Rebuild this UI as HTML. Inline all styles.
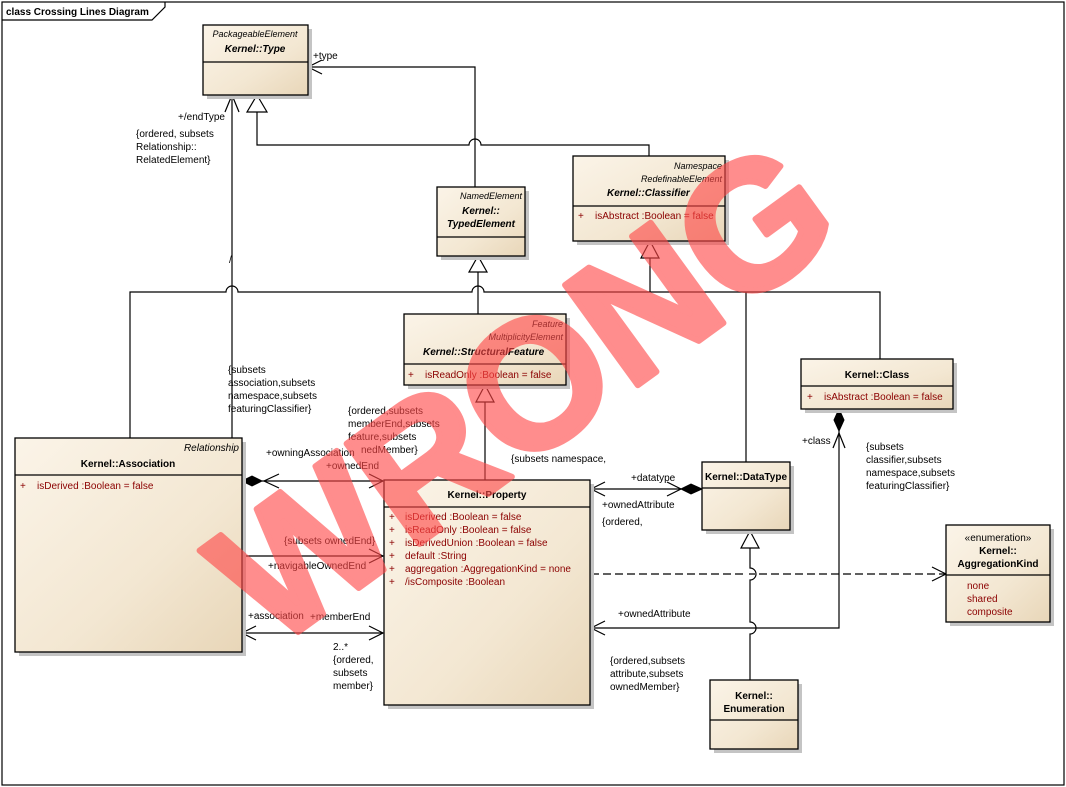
<!DOCTYPE html>
<html><head><meta charset="utf-8"><style>
html,body{margin:0;padding:0;background:#fff;}
svg{display:block;}
text{font-family:"Liberation Sans",sans-serif;font-size:10px;fill:#000;}
.b{font-weight:bold;}
.i{font-style:italic;}
.r{fill:#8b0000;}
.box{fill:url(#g);stroke:#000;stroke-width:1.3;}
.sh{fill:#c4c4c4;}
.ln{fill:none;stroke:#000;stroke-width:1.2;}
</style></head><body>
<svg width="1066" height="787" viewBox="0 0 1066 787" xmlns="http://www.w3.org/2000/svg">
<defs>
<linearGradient id="g" x1="0" y1="0" x2="1" y2="1">
<stop offset="0" stop-color="#fbf4e8"/><stop offset="0.6" stop-color="#f3e7d2"/><stop offset="1" stop-color="#e8d6b8"/>
</linearGradient>
</defs>
<rect x="0" y="0" width="1066" height="787" fill="#fff"/>
<rect x="2" y="2" width="1062" height="783" fill="none" stroke="#000" stroke-width="1.2"/>
<path d="M2,20 H152 L165,7 V2" class="ln"/>
<text x="6" y="15" class="b" style="font-size:10px">class Crossing Lines Diagram</text>

<!-- connectors -->
<path class="ln" d="M257,112 V145 H469 a6,6 0 0 1 12,0 H649 V156"/>
<path class="ln" d="M247,112 H267 L257,95 Z" fill="#fff"/>
<path class="ln" d="M475,187 V67 H308"/>
<path class="ln" d="M322,60 L308,67 L322,74"/>
<path class="ln" d="M232,438 V95"/>
<path class="ln" d="M225,112 L232,95 L239,112"/>
<path class="ln" d="M130,438 V292 H226 a6,6 0 0 1 12,0 H472 a6,6 0 0 1 12,0 H880 V359"/>
<path class="ln" d="M746,292 V462"/>
<path class="ln" d="M650,258 V292"/>
<path class="ln" d="M641,258 H659 L650,241 Z" fill="#fff"/>
<path class="ln" d="M478,272 V314"/>
<path class="ln" d="M469,272 H487 L478,256 Z" fill="#fff"/>
<path class="ln" d="M485,480 V402"/>
<path class="ln" d="M476,402 H494 L485,385 Z" fill="#fff"/>
<!-- association-property -->
<path class="ln" d="M262,481 H383"/>
<path d="M242,481 L252,476 L262,481 L252,486 Z" fill="#000" stroke="#000"/>
<path class="ln" d="M279,474 L264,481 L279,488"/>
<path class="ln" d="M369,474 L383,481 L369,488"/>
<path class="ln" d="M242,556 H383"/>
<path class="ln" d="M369,549 L383,556 L369,563"/>
<path class="ln" d="M242,633 H383"/>
<path class="ln" d="M369,626 L383,633 L369,640"/>
<path class="ln" d="M256,626 L242,633 L256,640"/>
<!-- datatype -->
<path class="ln" d="M591,489 H681"/>
<path d="M681,489 L691,484 L702,489 L691,494 Z" fill="#000" stroke="#000"/>
<path class="ln" d="M605,482 L591,489 L605,496"/>
<path class="ln" d="M667,482 L681,489 L667,496"/>
<path class="ln" d="M591,574 H946" stroke-dasharray="8,4"/>
<path class="ln" d="M932,567 L946,574 L932,581"/>
<path class="ln" d="M750,548 V568 a6,6 0 0 1 0,12 V622 a6,6 0 0 1 0,12 V680" style="fill:none"/>
<rect x="743" y="568" width="6" height="12" fill="#fff"/>
<rect x="743" y="622" width="6" height="12" fill="#fff"/>
<path class="ln" d="M741,548 H759 L750,531 Z" fill="#fff"/>
<path class="ln" d="M839,431 V628 H591"/>
<path d="M839,409 L844,420 L839,431 L834,420 Z" fill="#000" stroke="#000"/>
<path class="ln" d="M833,448 L839,433 L845,448"/>
<path class="ln" d="M605,621 L591,628 L605,635"/>

<!-- boxes -->
<rect class="sh" x="207" y="29" width="105" height="70"/>
<rect class="box" x="203" y="25" width="105" height="70"/>
<line class="ln" x1="203" y1="62" x2="308" y2="62"/>
<text x="255" y="37" class="i" text-anchor="middle" style="font-size:9px">PackageableElement</text>
<text x="255" y="52" class="b i" text-anchor="middle">Kernel::Type</text>

<rect class="sh" x="441" y="191" width="88" height="69"/>
<rect class="box" x="437" y="187" width="88" height="69"/>
<line class="ln" x1="437" y1="237" x2="525" y2="237"/>
<text x="522" y="199" class="i" text-anchor="end" style="font-size:9px">NamedElement</text>
<text x="481" y="214" class="b i" text-anchor="middle">Kernel::</text>
<text x="481" y="227" class="b i" text-anchor="middle">TypedElement</text>

<rect class="sh" x="577" y="160" width="152" height="85"/>
<rect class="box" x="573" y="156" width="152" height="85"/>
<line class="ln" x1="573" y1="206" x2="725" y2="206"/>
<text x="722" y="169" class="i" text-anchor="end" style="font-size:9px">Namespace</text>
<text x="722" y="182" class="i" text-anchor="end" style="font-size:9px">RedefinableElement</text>
<text x="607" y="196" class="b i">Kernel::Classifier</text>
<text x="578" y="219" class="r">+</text><text x="595" y="219" class="r">isAbstract  :Boolean = false</text>

<rect class="sh" x="408" y="318" width="162" height="71"/>
<rect class="box" x="404" y="314" width="162" height="71"/>
<line class="ln" x1="404" y1="364" x2="566" y2="364"/>
<text x="563" y="327" class="i" text-anchor="end" style="font-size:9px">Feature</text>
<text x="563" y="340" class="i" text-anchor="end" style="font-size:9px">MultiplicityElement</text>
<text x="423" y="355" class="b i">Kernel::StructuralFeature</text>
<text x="408" y="378" class="r">+</text><text x="425" y="378" class="r">isReadOnly  :Boolean = false</text>

<rect class="sh" x="805" y="363" width="152" height="50"/>
<rect class="box" x="801" y="359" width="152" height="50"/>
<line class="ln" x1="801" y1="386" x2="953" y2="386"/>
<text x="877" y="378" class="b" text-anchor="middle">Kernel::Class</text>
<text x="807" y="400" class="r">+</text><text x="824" y="400" class="r">isAbstract  :Boolean = false</text>

<rect class="sh" x="19" y="442" width="227" height="214"/>
<rect class="box" x="15" y="438" width="227" height="214"/>
<line class="ln" x1="15" y1="475" x2="242" y2="475"/>
<text x="239" y="451" class="i" text-anchor="end">Relationship</text>
<text x="128" y="467" class="b" text-anchor="middle">Kernel::Association</text>
<text x="20" y="489" class="r">+</text><text x="37" y="489" class="r">isDerived  :Boolean = false</text>

<rect class="sh" x="388" y="484" width="206" height="225"/>
<rect class="box" x="384" y="480" width="206" height="225"/>
<line class="ln" x1="384" y1="507" x2="590" y2="507"/>
<text x="487" y="498" class="b" text-anchor="middle">Kernel::Property</text>
<g class="r">
<text x="389" y="520" class="r">+</text><text x="405" y="520" class="r">isDerived  :Boolean = false</text>
<text x="389" y="533" class="r">+</text><text x="405" y="533" class="r">isReadOnly  :Boolean = false</text>
<text x="389" y="546" class="r">+</text><text x="405" y="546" class="r">isDerivedUnion  :Boolean = false</text>
<text x="389" y="559" class="r">+</text><text x="405" y="559" class="r">default  :String</text>
<text x="389" y="572" class="r">+</text><text x="405" y="572" class="r">aggregation  :AggregationKind = none</text>
<text x="389" y="585" class="r">+</text><text x="405" y="585" class="r">/isComposite  :Boolean</text>
</g>

<rect class="sh" x="706" y="466" width="88" height="68"/>
<rect class="box" x="702" y="462" width="88" height="68"/>
<line class="ln" x1="702" y1="488" x2="790" y2="488"/>
<text x="746" y="480" class="b" text-anchor="middle">Kernel::DataType</text>

<rect class="sh" x="950" y="529" width="104" height="97"/>
<rect class="box" x="946" y="525" width="104" height="97"/>
<line class="ln" x1="946" y1="575" x2="1050" y2="575"/>
<text x="998" y="541" text-anchor="middle">«enumeration»</text>
<text x="998" y="554" class="b" text-anchor="middle">Kernel::</text>
<text x="998" y="567" class="b" text-anchor="middle">AggregationKind</text>
<text x="967" y="589" class="r">none</text>
<text x="967" y="602" class="r">shared</text>
<text x="967" y="615" class="r">composite</text>

<rect class="sh" x="714" y="684" width="88" height="69"/>
<rect class="box" x="710" y="680" width="88" height="69"/>
<line class="ln" x1="710" y1="720" x2="798" y2="720"/>
<text x="754" y="699" class="b" text-anchor="middle">Kernel::</text>
<text x="754" y="712" class="b" text-anchor="middle">Enumeration</text>

<!-- labels -->
<text x="313" y="59">+type</text>
<text x="225" y="120" text-anchor="end">+/endType</text>
<text x="136" y="137">{ordered, subsets</text>
<text x="136" y="150">Relationship::</text>
<text x="136" y="163">RelatedElement}</text>
<text x="229" y="263">/</text>
<text x="228" y="373">{subsets</text>
<text x="228" y="386">association,subsets</text>
<text x="228" y="399">namespace,subsets</text>
<text x="228" y="412">featuringClassifier}</text>
<text x="348" y="414">{ordered,subsets</text>
<text x="348" y="427">memberEnd,subsets</text>
<text x="348" y="440">feature,subsets</text>
<text x="361" y="453">nedMember}</text>
<text x="266" y="456">+owningAssociation</text>
<text x="326" y="469">+ownedEnd</text>
<text x="511" y="462">{subsets namespace,</text>
<text x="284" y="544">{subsets ownedEnd}</text>
<text x="268" y="569">+navigableOwnedEnd</text>
<text x="248" y="619">+association</text>
<text x="310" y="620">+memberEnd</text>
<text x="333" y="650">2..*</text>
<text x="333" y="663">{ordered,</text>
<text x="333" y="676">subsets</text>
<text x="333" y="689">member}</text>
<text x="631" y="481">+datatype</text>
<text x="602" y="508">+ownedAttribute</text>
<text x="602" y="525">{ordered,</text>
<text x="802" y="444">+class</text>
<text x="866" y="450">{subsets</text>
<text x="866" y="463">classifier,subsets</text>
<text x="866" y="476">namespace,subsets</text>
<text x="866" y="489">featuringClassifier}</text>
<text x="618" y="617">+ownedAttribute</text>
<text x="610" y="664">{ordered,subsets</text>
<text x="610" y="677">attribute,subsets</text>
<text x="610" y="690">ownedMember}</text>

<!-- watermark -->
<g opacity="0.62">
<text x="520" y="455" text-anchor="middle" transform="rotate(-36 520 388)" style="font-size:180px;font-weight:bold;fill:#ff4848;stroke:#ff4848;stroke-width:6;stroke-linejoin:round;">WRONG</text>
</g>
</svg>
</body></html>
